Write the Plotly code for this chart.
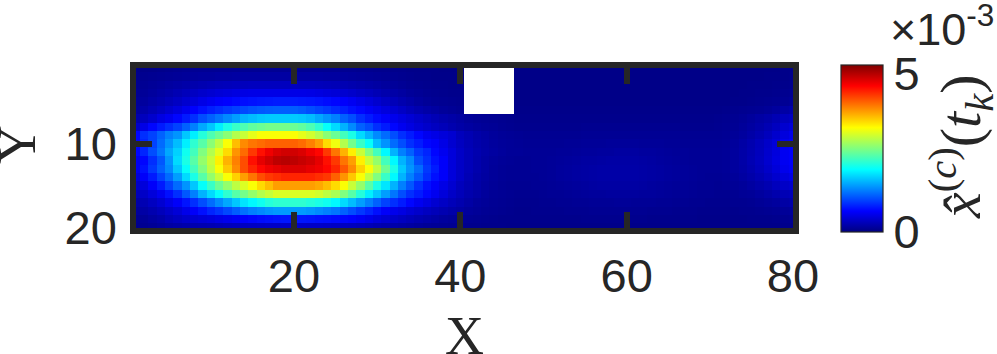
import plotly.graph_objects as go

N = None
x_cols = list(range(1, 81))
y_rows = list(range(1, 21))
# Values in units of 1e-4, one list per row (Y = 1..20)
row01 = [.5,.5,.5,.6,.7,.8,.9,1,1,1, 1,1,1,1,1,1,1,1,1,1, 1,1,1,1,1,.9,.9,.8,.8,.7, .7,.6,.6,.5,.5,.5,.5,.4,.4,.4, N,N,N,N,N,N, .4,.4,.4,.4,.4,.4,.4,.4,.4,.4, .4,.4,.4,.4,.4,.4,.4,.4,.4,.4, .4,.4,.4,.4,.4,.4,.4,.4,.4,.4, .4,.4,.5,.5]
row02 = [.7,.8,.9,1,1.1,1.2,1.3,1.4,1.5,1.5, 1.6,1.6,1.7,1.7,1.7,1.7,1.7,1.7,1.7,1.7, 1.7,1.7,1.7,1.6,1.6,1.5,1.4,1.3,1.2,1.1, 1,.9,.8,.7,.6,.6,.5,.5,.5,.4, N,N,N,N,N,N, .4,.4,.4,.4,.4,.4,.4,.4,.4,.4, .4,.4,.4,.4,.4,.4,.4,.4,.4,.4, .4,.4,.4,.4,.4,.4,.4,.4,.4,.4, .5,.5,.5,.6]
row03 = [.8,1,1.2,1.4,1.6,1.8,2,2.2,2.4,2.6, 2.8,2.9,3,3,3.1,3.1,3.1,3.1,3.1,3.1, 3,3,2.9,2.8,2.7,2.5,2.3,2.1,1.9,1.7, 1.5,1.3,1.1,.9,.8,.7,.6,.6,.5,.5, N,N,N,N,N,N, .4,.4,.4,.4,.4,.4,.4,.4,.4,.4, .4,.4,.4,.4,.4,.4,.4,.4,.4,.4, .4,.4,.4,.4,.4,.4,.4,.4,.5,.5, .5,.6,.6,.7]
row04 = [1,1.2,1.5,1.8,2.1,2.5,2.9,3.3,3.7,4, 4.3,4.5,4.7,4.9,5,5,5,5,5,5, 5,4.9,4.7,4.5,4.3,4,3.7,3.3,3,2.6, 2.2,1.9,1.6,1.3,1.1,.9,.8,.7,.6,.6, N,N,N,N,N,N, .4,.4,.4,.4,.4,.4,.4,.4,.4,.4, .4,.4,.4,.4,.4,.4,.4,.4,.4,.4, .4,.4,.4,.4,.4,.4,.4,.5,.5,.6, .6,.7,.8,.9]
row05 = [1.2,1.5,1.9,2.3,2.8,3.3,3.9,4.4,5,5.5, 6,6.3,6.6,6.9,7.1,7.3,7.4,7.5,7.5,7.5, 7.4,7.3,7.1,6.8,6.5,6.1,5.6,5,4.5,3.9, 3.3,2.8,2.3,1.9,1.5,1.2,1,.9,.8,.7, N,N,N,N,N,N, .4,.4,.4,.4,.4,.4,.4,.4,.4,.4, .4,.4,.4,.4,.4,.4,.4,.4,.4,.4, .4,.4,.4,.4,.4,.4,.5,.5,.6,.7, .8,.9,1,1.2]
row06 = [1.4,2,2.6,3.2,3.9,4.6,5.4,6.2,7,7.7, 8.3,8.9,9.4,9.8,10.2,10.5,10.7,10.8,10.8,10.8, 10.5,10,9.5,9,8.3,7.7,7,6.5,5.8,5.2, 4.6,4,3.4,2.8,2.3,1.9,1.6,1.3,1.1,.9, N,N,N,N,N,N, .5,.5,.5,.5,.5,.5,.5,.5,.5,.5, .5,.5,.5,.5,.5,.5,.5,.5,.5,.5, .5,.5,.5,.5,.5,.6,.7,.8,.9,1, 1.2,1.5,1.8,2.1]
row07 = [2.2,3,3.8,4.8,5.5,6.5,7.5,8.5,10,11, 12,13,14,15,15.5,16,16.2,16.2,16.2,16.2, 16,15.5,14.5,13.5,12.5,11,10,8.5,7.5,6.7, 6,5.3,4.7,4.2,3.6,3.1,2.6,2.2,1.9,1.6, 1.3,1.1,1,.9,.8,.7, .6,.6,.6,.6,.6,.6,.6,.6,.6,.6, .6,.6,.6,.6,.6,.6,.6,.6,.6,.6, .6,.6,.6,.6,.7,.8,.9,1.1,1.4,1.7, 2,2.5,3,3.3]
row08 = [3.6,5,6.5,7.5,8.5,9.5,11,12.5,14.5,16, 18,20,21.5,22.5,23.5,24,24.5,24.5,24.5,24, 23.5,22.5,21,19,17,15,13,11,10,8.5, 7.5,6.5,5.5,4.8,4.2,3.7,3.2,2.8,2.3,1.9, 1.6,1.4,1.2,1.1,.9,.8, .7,.7,.7,.7,.7,.7,.7,.7,.8,.8, .8,.8,.8,.8,.8,.8,.8,.8,.8,.8, .7,.7,.7,.7,.8,.9,1,1.3,1.6,2, 2.5,3.1,3.9,4.4]
row09 = [6.5,8.5,9.5,11,12.5,13.5,16,18,20.5,22.5, 24,25.5,27.5,28.5,30,31,31,31,31,31, 30,29,27.5,25.5,24,22,20,17,15,13, 11.5,10,8.5,7.5,6.5,5.5,5,4.5,4,3, 2.5,2,1.7,1.4,1.2,1.1, 1,.9,.9,.9,.9,.9,.9,.9,1,1, 1,1,1,1,1,1,1,1,1,1, .9,.9,.9,.9,.9,1,1.2,1.5,1.9,2.4, 3,3.8,4.6,5.2]
row10 = [6.5,8,9.5,11.5,13.5,15.5,18,21,23,25.5, 28,31,34.5,37,38,38.5,39,39,39,39, 38.5,37.5,36,33,30.5,27.5,24.5,21.5,19,15.5, 13.5,11.5,10,8.5,7.5,6.5,6,5,4,3.2, 2.6,2.1,1.8,1.5,1.3,1.2, 1.1,1,1,1,1,1,1.1,1.1,1.2,1.2, 1.2,1.3,1.3,1.3,1.3,1.2,1.2,1.2,1.1,1.1, 1,1,1,1,1,1.1,1.4,1.8,2.3,2.9, 3.6,4.4,5.3,5.8]
row11 = [6.5,8,10,12,14.5,16.5,19.5,22,25,27.5, 30,33,36.5,38.5,41,43,44.5,45.5,46,46, 45.5,44.5,43.5,41,38,35,32,28.5,25,22, 18.5,15,12.5,11,9,8,6.5,5.5,4.5,3.5, 2.8,2.3,1.9,1.6,1.4,1.2, 1.2,1.1,1.1,1.1,1.1,1.2,1.2,1.3,1.4,1.4, 1.5,1.5,1.6,1.6,1.6,1.5,1.5,1.4,1.3,1.2, 1.2,1.1,1.1,1.1,1.1,1.2,1.5,1.9,2.4,3, 3.8,4.6,5.6,6]
row12 = [5.5,6.5,8.5,10.5,13.5,17,20,23,26,28.5, 32,35,37.5,40,43,45,46,47,47.3,47, 46.5,46,45,43,41,38,36,32,28.5,26, 22,18.5,15,13,10,8.5,7,6,4.5,3.5, 2.8,2.2,1.7,1.4,1.2,1.1, 1,1,1.1,1.1,1.2,1.3,1.4,1.5,1.6,1.6, 1.7,1.8,1.8,1.8,1.8,1.7,1.6,1.5,1.4,1.3, 1.2,1.1,1.1,1.1,1.1,1.2,1.5,1.9,2.5,3.1, 3.9,4.7,5.6,6]
row13 = [5.5,7,9,11,13,16,19,22,25,28, 31,34,37,40,42,43.5,44.5,45,45.5,45.5, 45.5,45,44.5,43.5,42,39.5,37,33.5,31,28, 24,20,16,13.5,11.5,9,7.5,6,4.5,3.5, 2.8,2.2,1.7,1.3,1.1,1, 1,1,1.1,1.1,1.2,1.4,1.5,1.6,1.7,1.8, 1.9,1.9,1.9,1.9,1.9,1.8,1.7,1.6,1.5,1.4, 1.3,1.2,1.1,1.1,1.1,1.2,1.5,1.8,2.3,2.9, 3.6,4.4,5.3,5.8]
row14 = [4.5,6,7.5,9.5,11.5,14,17,20,23,26, 28.5,31,33.5,36,38,40,41,41.5,42,42, 42,42,41.5,41,39,36.5,34,31,28,25, 21.5,18.5,15,12.5,10.5,8.5,7,6,4.5,3.5, 2.6,2,1.6,1.3,1.1,1, 1,1,1,1.1,1.2,1.4,1.5,1.6,1.7,1.8, 1.9,1.9,1.9,1.9,1.9,1.8,1.7,1.6,1.5,1.4, 1.3,1.2,1.1,1,1,1.1,1.3,1.6,2,2.5, 3.1,3.8,4.5,5]
row15 = [3.5,4.5,6,7.5,9.5,11.5,13.5,16,19,21.5, 24,26,28,29.5,31,33,34.5,36,36,36, 36,36,35.5,34.5,33,31,28.5,26,23,20, 17.5,15,12.5,10.5,8.5,7,6,5,4,3, 2.4,1.9,1.5,1.2,1,.9, .9,.9,1,1,1.1,1.2,1.3,1.4,1.5,1.6, 1.7,1.7,1.7,1.7,1.7,1.6,1.5,1.4,1.3,1.2, 1.2,1.1,1,1,.9,1,1.1,1.3,1.6,2, 2.4,3,3.5,3.8]
row16 = [2.7,3.5,4.5,5.5,7,8.5,10.5,12.5,15,17, 19,21,23,24.5,26,27.5,28.5,29.5,29.5,29.5, 29.5,29.5,29,28,27,25,23,20.5,18,16, 14,12,10,8.5,7.5,6.5,5.5,4.5,3.5,2.8, 2.2,1.8,1.4,1.1,1,.9, .8,.8,.8,.9,1,1,1.1,1.2,1.3,1.4, 1.4,1.5,1.5,1.5,1.5,1.4,1.4,1.3,1.2,1.1, 1.1,1,.9,.9,.8,.8,.9,1.1,1.2,1.5, 1.8,2.2,2.6,2.8]
row17 = [1.9,2.5,3.2,4,5,6,7.2,8.5,10,11.5, 13,14.5,16,17.5,18.5,19.5,20.5,21,21,21, 21,20.5,20,19.5,18.5,17,15.5,14,12.5,11, 9.5,8.5,7.5,6.5,5.5,4.8,4,3.4,2.8,2.3, 1.8,1.4,1.2,1,.9,.8, .7,.7,.7,.8,.8,.9,.9,1,1,1.1, 1.1,1.1,1.2,1.2,1.1,1.1,1.1,1,1,.9, .9,.8,.8,.7,.7,.7,.8,.8,.9,1.1, 1.3,1.5,1.8,2]
row18 = [1.4,1.8,2.3,2.9,3.6,4.3,5.2,6,7,8, 8.8,9.8,10.8,11.8,12.5,13,13.5,13.8,13.8,13.8, 13.8,13.5,13,12.5,12,11,10,9,8,7, 6,5.3,4.8,4.2,3.7,3.2,2.8,2.4,2,1.7, 1.4,1.2,1,.9,.8,.7, .6,.6,.7,.7,.7,.7,.8,.8,.8,.9, .9,.9,.9,.9,.9,.9,.8,.8,.8,.7, .7,.7,.6,.6,.6,.6,.6,.7,.7,.8, .9,1,1.2,1.3]
row19 = [.9,1.2,1.6,2,2.7,3.2,3.7,4,4.3,4.6, 5,5.4,5.8,6.2,6.5,6.8,7,7.2,7.3,7.3, 7.3,7.2,7,6.9,6.7,6.5,6.3,5.8,5.2,4.6, 4.1,3.6,3.2,2.8,2.4,2.1,1.8,1.5,1.3,1.1, 1,.9,.8,.7,.6,.6, .6,.6,.6,.6,.6,.6,.6,.6,.7,.7, .7,.7,.7,.7,.7,.7,.6,.6,.6,.6, .6,.6,.5,.5,.5,.5,.5,.5,.6,.6, .6,.7,.8,.9]
row20 = [.7,.9,1.1,1.4,1.7,1.9,2.1,2.3,2.4,2.5, 2.7,2.9,3,3.2,3.3,3.4,3.5,3.5,3.6,3.6, 3.6,3.5,3.5,3.4,3.3,3.2,3.1,2.9,2.7,2.4, 2.2,2,1.8,1.6,1.4,1.2,1.1,1,.9,.8, .7,.7,.6,.6,.6,.5, .5,.5,.5,.5,.5,.5,.5,.5,.5,.5, .5,.5,.5,.5,.5,.5,.5,.5,.5,.5, .5,.5,.5,.5,.5,.5,.5,.5,.5,.5, .5,.5,.6,.6]
z_rows = [row01,row02,row03,row04,row05,row06,row07,row08,row09,row10,
          row11,row12,row13,row14,row15,row16,row17,row18,row19,row20]

x_ticks = [20, 40, 60, 80]
y_ticks = [10, 20]
cbar_tickvals = [0, 47.3]
cbar_ticktext = ["0", "5"]

INK = "#262626"
FONT = "Liberation Sans"
SERIF = "Liberation Serif"
jet = [[0, "rgb(0,0,128)"], [.125, "rgb(0,0,255)"], [.375, "rgb(0,255,255)"],
       [.625, "rgb(255,255,0)"], [.875, "rgb(255,0,0)"], [1, "rgb(128,0,0)"]]

L, R, T, B = 136, 793, 68, 228
W, H = R - L, B - T

fig = go.Figure(go.Heatmap(
    x=x_cols, y=y_rows, z=z_rows, zmin=0, zmax=50, colorscale=jet, zsmooth=False,
    hoverongaps=False,
    colorbar=dict(
        x=(841 - L) / W, xanchor="left", xref="paper", xpad=0,
        y=(B - 65) / H, yanchor="top", yref="paper", ypad=0,
        lenmode="fraction", len=167 / H,
        thicknessmode="pixels", thickness=42,
        outlinecolor=INK, outlinewidth=1.2,
        tickvals=cbar_tickvals, ticktext=cbar_ticktext, ticks="",
        tickfont=dict(family=FONT, size=47, color=INK),
    ),
))
axis_common = dict(
    showgrid=False, zeroline=False, showline=True, linecolor=INK, linewidth=5.5,
    mirror="allticks", ticks="inside", ticklen=16, tickwidth=5.5, tickcolor=INK,
    tickfont=dict(family=FONT, size=47, color=INK), automargin=False,
)
fig.update_xaxes(range=[1, 80], tickvals=x_ticks, ticktext=[str(v) for v in x_ticks],
                 ticklabelstandoff=2, **axis_common)
fig.update_yaxes(range=[20, 1], tickvals=y_ticks, ticktext=[str(v) for v in y_ticks],
                 ticklabelstandoff=4, **axis_common)
fig.add_annotation(text="X", xref="paper", yref="paper", x=(464 - L) / W, y=(B - 336) / H,
                   showarrow=False, xanchor="center", yanchor="middle",
                   font=dict(family=SERIF, size=54, color=INK))
fig.add_annotation(text="Y", xref="paper", yref="paper", x=(17 - L) / W, y=(B - 145) / H,
                   textangle=-90, showarrow=False, xanchor="center", yanchor="middle",
                   font=dict(family=SERIF, size=54, color=INK))
fig.add_annotation(text="×10<sup>-3</sup>", xref="paper", yref="paper", x=(888 - L) / W,
                   y=(B - 26) / H, xanchor="left", yanchor="middle", showarrow=False,
                   font=dict(family=FONT, size=45, color=INK))
fig.add_annotation(text="<i>x̂</i><sup>(<i>c</i>)</sup>(<i>t<sub>k</sub></i>)",
                   xref="paper", yref="paper", x=(961 - L) / W, y=(B - 147) / H,
                   textangle=-90, showarrow=False, xanchor="center", yanchor="middle",
                   font=dict(family=SERIF, size=58, color=INK))
fig.update_layout(width=997, height=354, margin=dict(l=L, r=997 - R, t=T, b=354 - B),
                  paper_bgcolor="white", plot_bgcolor="white")
fig.write_html("out.html", post_script="document.body.style.margin='0';",
               config={"displayModeBar": False})
